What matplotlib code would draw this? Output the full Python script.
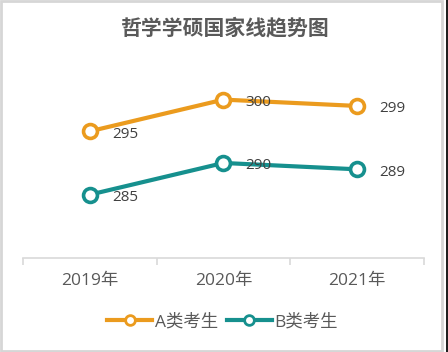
import matplotlib
matplotlib.use("Agg")
import matplotlib.pyplot as plt
from matplotlib.patches import Rectangle
from matplotlib.lines import Line2D

plt.rcParams['font.family'] = ['Open Sans', 'Noto Sans CJK SC', 'DejaVu Sans']

years = ["2019年", "2020年", "2021年"]
series_a = [295, 300, 299]
series_b = [285, 290, 289]
names = ["A类考生", "B类考生"]
colors = ["#EB9B1E", "#16908E"]

fig = plt.figure(figsize=(4.48, 3.52), dpi=100)
ax = fig.add_axes([0.0513, 0.267, 0.8951, 0.54])

x = list(range(len(years)))
for vals, name, c in zip([series_a, series_b], names, colors):
    ax.plot(x, vals, color=c, lw=3.0, marker='o', markersize=10,
            markerfacecolor='white', markeredgecolor=c, markeredgewidth=2.6,
            solid_capstyle='round', zorder=3, label=name)
    for xi, v in zip(x, vals):
        ax.annotate(str(v), (xi, v), xytext=(16, -2), textcoords='offset points',
                    ha='left', va='center', fontsize=11, color='#404040', zorder=4)

ax.set_xlim(-0.5, 2.5)
ax.set_ylim(275, 305)
for s in ['top', 'right', 'left']:
    ax.spines[s].set_visible(False)
ax.spines['bottom'].set_color('#D9D9D9')
ax.spines['bottom'].set_linewidth(1.2)
ax.set_yticks([])
ax.set_xticks(x)
ax.set_xticklabels(years, fontsize=12.5, color='#595959')
ax.tick_params(axis='x', which='major', length=0, pad=11)
ax.set_xticks([-0.5, 0.5, 1.5, 2.5], minor=True)
ax.tick_params(axis='x', which='minor', length=5, width=1.2, color='#D9D9D9')

fig.text(0.5, 0.922, "哲学学硕国家线趋势图", ha='center', va='center', fontsize=15,
         color='#595959', fontweight='bold', family=['Noto Sans CJK SC', 'DejaVu Sans'])

leg_handles = [Line2D([0], [0], color=c, lw=3.0, marker='o', markersize=7,
                      markerfacecolor='white', markeredgecolor=c, markeredgewidth=2.0)
               for c in colors]
fig.legend(leg_handles, names, loc='center', bbox_to_anchor=(0.497, 0.085), ncol=2,
           frameon=False, fontsize=12.5, handlelength=2.6, handletextpad=0.15,
           columnspacing=0.5, labelcolor='#595959')

fig.patches.append(Rectangle((0.002, 0.002), 0.985, 0.994, transform=fig.transFigure,
                             fill=False, edgecolor='#D6D6D6', lw=2.0))
fig.patches.append(Rectangle((0.995, 0), 0.005, 1, transform=fig.transFigure,
                             facecolor='#202020', edgecolor='none'))

fig.savefig("out.png", dpi=100)
